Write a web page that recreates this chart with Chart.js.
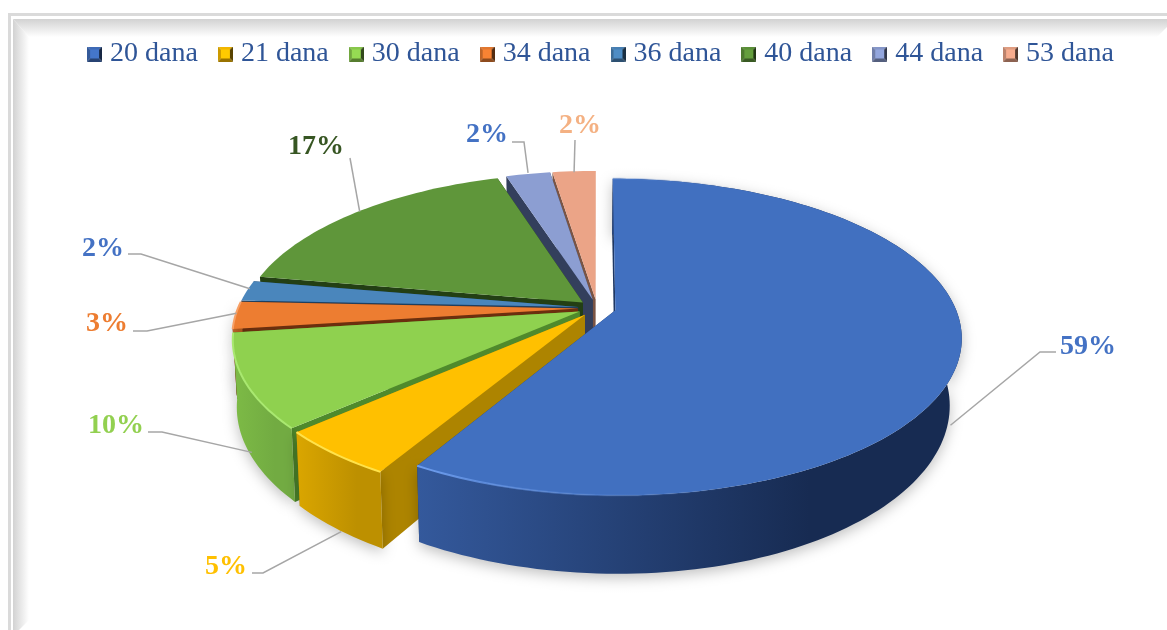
<!DOCTYPE html>
<html>
<head>
<meta charset="utf-8">
<script src="https://cdn.jsdelivr.net/npm/chart.js@4"></script>
<style>
    html, body { margin: 0; padding: 0; background: #fff; }
    canvas { display: block; }
</style>
</head>
<body>
<canvas id="chart" width="1167" height="630"></canvas>
<script>
const categories = ['20 dana', '21 dana', '30 dana', '34 dana', '36 dana', '40 dana', '44 dana', '53 dana'];
// unrounded shares estimated from the slice edges, the labels show them rounded
const shares = [58.5, 4.9, 9.6, 2.8, 2.1, 17.4, 2.45, 2.4];

const sliceColors = ['#4170C0', '#FFC000', '#8FD14F', '#ED7D31', '#4A86BC', '#5F963A', '#8C9ED2', '#EBA487'];
const wallLeft = ['#34599C', '#DAA600', '#7DBB46', '#B8622A', '#36648E', '#47702B', '#69779E', '#B07B65'];
const wallRight = ['#172B52', '#BD9000', '#72AB42', '#A8561E', '#2E567A', '#3E6226', '#5A678A', '#9A6B58'];
const cutColors = ['#1F3864', '#AD8400', '#4F8A2C', '#6B2F0E', '#1F3F5F', '#233F14', '#333F5C', '#7A5444'];
const rimColors = ['#6F9FF0', '#FFE24A', '#A9E870', '#F7A066', '#6FA6D8', '#7DB455', '#A9B8E2', '#F4C0AA'];
const labelColors = ['#4472C4', '#FFC000', '#92D050', '#ED7D31', '#4472C4', '#375623', '#4472C4', '#F4B183'];

// callouts: nudge moves the line start off the rim, elbow and end are canvas points, text is where the label sits
const callouts = [
    { nudge: [-10, 73], elbow: [1040, 352], end: [1056, 352], text: [1060, 347] },
    { nudge: [7, 78], elbow: [263, 573], end: [252, 573], text: [205, 567] },
    { nudge: [7, 71], elbow: [162, 432], end: [148, 432], text: [88, 426] },
    { nudge: [1, -2], elbow: [147, 331], end: [133, 331], text: [86, 324] },
    { nudge: [3, -2], elbow: [141, 254], end: [128, 254], text: [82, 249] },
    { nudge: [4, -1], elbow: [350, 158], end: [350, 158], text: [288, 147] },
    { nudge: [0, -1], elbow: [524, 142], end: [512, 142], text: [466, 135] },
    { nudge: [0, 1], elbow: [575, 140], end: [575, 140], text: [559, 126] }
];

// fake 3D camera for the pie
const centerX = 597;
const centerY = 308;
const pieRadius = 340;
const explode = 19;
const squash = 0.45;
const perspective = 0.169;
const depth = 65;
const shrinkLeft = 0.989;
const shrinkRight = 0.967;

function project(ux, uy, low) {
    const w = 1 - perspective * uy;
    const s = low ? (ux < 0 ? shrinkLeft : shrinkRight) : 1;
    return {
        x: centerX + pieRadius * ux / w * s,
        y: centerY + pieRadius * squash * uy / w + (low ? depth / w : 0)
    };
}

function slicePoints(arc, low) {
    const mid = (arc.startAngle + arc.endAngle) / 2;
    const off = arc.options.offset / arc.outerRadius;
    const ox = Math.cos(mid) * off;
    const oy = Math.sin(mid) * off;
    const at = (a, t) => project(ox + Math.cos(a) * t, oy + Math.sin(a) * t, low);
    const rim = [];
    const steps = Math.max(6, Math.ceil((arc.endAngle - arc.startAngle) * 40));
    for (let i = 0; i <= steps; i++) {
        rim.push(at(arc.startAngle + (arc.endAngle - arc.startAngle) * i / steps, 1));
    }
    return { apex: at(0, 0), rim: rim, mid: at(mid, 1) };
}

function fillPoly(ctx, pts, fill) {
    ctx.beginPath();
    pts.forEach((p, i) => (i ? ctx.lineTo(p.x, p.y) : ctx.moveTo(p.x, p.y)));
    ctx.closePath();
    ctx.fillStyle = fill;
    ctx.fill();
}

function lerpPoint(a, b, t) {
    return { x: a.x + (b.x - a.x) * t, y: a.y + (b.y - a.y) * t };
}

function drawSlice(ctx, arc, i) {
    const top = slicePoints(arc, false);
    const low = slicePoints(arc, true);
    const mid = (arc.startAngle + arc.endAngle) / 2;
    const faces = Math.sin(mid) > 0;

    // two cut faces, kept short on the far left so they do not poke out past the green wall
    const cutDepth = !faces && Math.cos(mid) < -0.9 ? 0.3 : 1;
    [0, top.rim.length - 1].forEach(k => {
        fillPoly(ctx, [
            top.apex,
            top.rim[k],
            lerpPoint(top.rim[k], low.rim[k], cutDepth),
            lerpPoint(top.apex, low.apex, cutDepth)
        ], cutColors[i]);
    });

    const xs = top.rim.map(p => p.x);
    const left = Math.min(...xs);
    const right = Math.max(...xs);

    // outer wall, only the slices at the front show one
    if (faces) {
        const wall = ctx.createLinearGradient(left, 0, left + (right - left) * 0.72, 0);
        wall.addColorStop(0, wallLeft[i]);
        wall.addColorStop(1, wallRight[i]);
        ctx.save();
        ctx.shadowColor = 'rgba(0, 0, 0, 0.25)';
        ctx.shadowBlur = 14;
        ctx.shadowOffsetY = 4;
        fillPoly(ctx, top.rim.concat(low.rim.slice().reverse()), wall);
        ctx.restore();
    }

    // top face
    fillPoly(ctx, [top.apex].concat(top.rim), arc.options.backgroundColor);

    // light rim on the side that faces the viewer
    if (faces) {
        const rimGrad = ctx.createLinearGradient(left, 0, left + (right - left) * 0.6, 0);
        rimGrad.addColorStop(0, rimColors[i]);
        rimGrad.addColorStop(1, i === 0 ? 'rgba(65, 112, 192, 0)' : rimColors[i]);
        ctx.beginPath();
        top.rim.forEach((p, k) => (k ? ctx.lineTo(p.x, p.y) : ctx.moveTo(p.x, p.y)));
        ctx.strokeStyle = rimGrad;
        ctx.lineWidth = 2;
        ctx.stroke();
    }
}

function drawCallout(ctx, arc, i) {
    const c = callouts[i];
    const start = slicePoints(arc, false).mid;
    ctx.beginPath();
    ctx.moveTo(start.x + c.nudge[0], start.y + c.nudge[1]);
    ctx.lineTo(c.elbow[0], c.elbow[1]);
    ctx.lineTo(c.end[0], c.end[1]);
    ctx.strokeStyle = '#A6A6A6';
    ctx.lineWidth = 1.5;
    ctx.stroke();

    ctx.font = 'bold 28px "Liberation Serif"';
    ctx.fillStyle = labelColors[i];
    ctx.textAlign = 'left';
    ctx.textBaseline = 'middle';
    ctx.fillText(Math.round(shares[i]) + '%', c.text[0], c.text[1]);
}

const pie3d = {
    id: 'pie3d',
    beforeDatasetsDraw(chart) {
        const ctx = chart.ctx;
        const arcs = chart.getDatasetMeta(0).data;
        // back to front, the big slice goes last
        for (let i = arcs.length - 1; i >= 0; i--) {
            drawSlice(ctx, arcs[i], i);
        }
        arcs.forEach((arc, i) => drawCallout(ctx, arc, i));
        return false;
    }
};

const frame = {
    id: 'frame',
    beforeDraw(chart) {
        const ctx = chart.ctx;
        const w = chart.width;
        const h = chart.height;
        ctx.save();
        ctx.fillStyle = '#fff';
        ctx.fillRect(0, 0, w, h);

        ctx.fillStyle = '#DADADA';
        ctx.fillRect(8, 13, w, 3);
        ctx.fillRect(8, 13, 3, h);

        const topBand = ctx.createLinearGradient(0, 19, 0, 37);
        topBand.addColorStop(0, '#D2D2D2');
        topBand.addColorStop(1, '#FFFFFF');
        fillPoly(ctx, [{ x: 13, y: 19 }, { x: w + 8, y: 19 }, { x: w - 10, y: 37 }, { x: 29, y: 37 }], topBand);

        const leftBand = ctx.createLinearGradient(13, 0, 29, 0);
        leftBand.addColorStop(0, '#D2D2D2');
        leftBand.addColorStop(1, '#FFFFFF');
        fillPoly(ctx, [{ x: 13, y: 19 }, { x: 29, y: 37 }, { x: 29, y: h - 10 }, { x: 19, y: h }, { x: 13, y: h }], leftBand);
        ctx.restore();
    }
};

function shade(hex, f) {
    const n = parseInt(hex.slice(1), 16);
    const ch = v => Math.min(255, Math.round(v * f));
    return 'rgb(' + ch(n >> 16) + ',' + ch((n >> 8) & 255) + ',' + ch(n & 255) + ')';
}

// small bevelled legend square
function bevelMarker(hex) {
    const size = 15;
    const b = 3;
    const c = document.createElement('canvas');
    c.width = size;
    c.height = size;
    const g = c.getContext('2d');
    fillPoly(g, [{ x: 0, y: 0 }, { x: size, y: 0 }, { x: size - b, y: b }, { x: b, y: b }], shade(hex, 0.95));
    fillPoly(g, [{ x: 0, y: 0 }, { x: b, y: b }, { x: b, y: size - b }, { x: 0, y: size }], shade(hex, 0.8));
    fillPoly(g, [{ x: size, y: 0 }, { x: size, y: size }, { x: size - b, y: size - b }, { x: size - b, y: b }], shade(hex, 0.35));
    fillPoly(g, [{ x: 0, y: size }, { x: b, y: size - b }, { x: size - b, y: size - b }, { x: size, y: size }], shade(hex, 0.6));
    g.fillStyle = shade(hex, 1.05);
    g.fillRect(b, b, size - 2 * b, size - 2 * b);
    return c;
}

new Chart(document.getElementById('chart'), {
    type: 'pie',
    data: {
        labels: categories,
        datasets: [{
            data: shares,
            backgroundColor: sliceColors,
            borderWidth: 0,
            offset: explode
        }]
    },
    options: {
        responsive: false,
        animation: false,
        events: [],
        radius: pieRadius,
        layout: { padding: { top: 14, left: 40 } },
        plugins: {
            tooltip: { enabled: false },
            legend: {
                position: 'top',
                labels: {
                    font: { family: '"Liberation Serif"', size: 28 },
                    color: '#2F5597',
                    usePointStyle: true,
                    pointStyleWidth: 3,
                    padding: 26,
                    generateLabels(chart) {
                        const items = Chart.overrides.doughnut.plugins.legend.labels.generateLabels(chart);
                        return items.map((item, i) => Object.assign(item, { pointStyle: bevelMarker(sliceColors[i]) }));
                    }
                }
            }
        }
    },
    plugins: [frame, pie3d]
});
</script>
</body>
</html>
